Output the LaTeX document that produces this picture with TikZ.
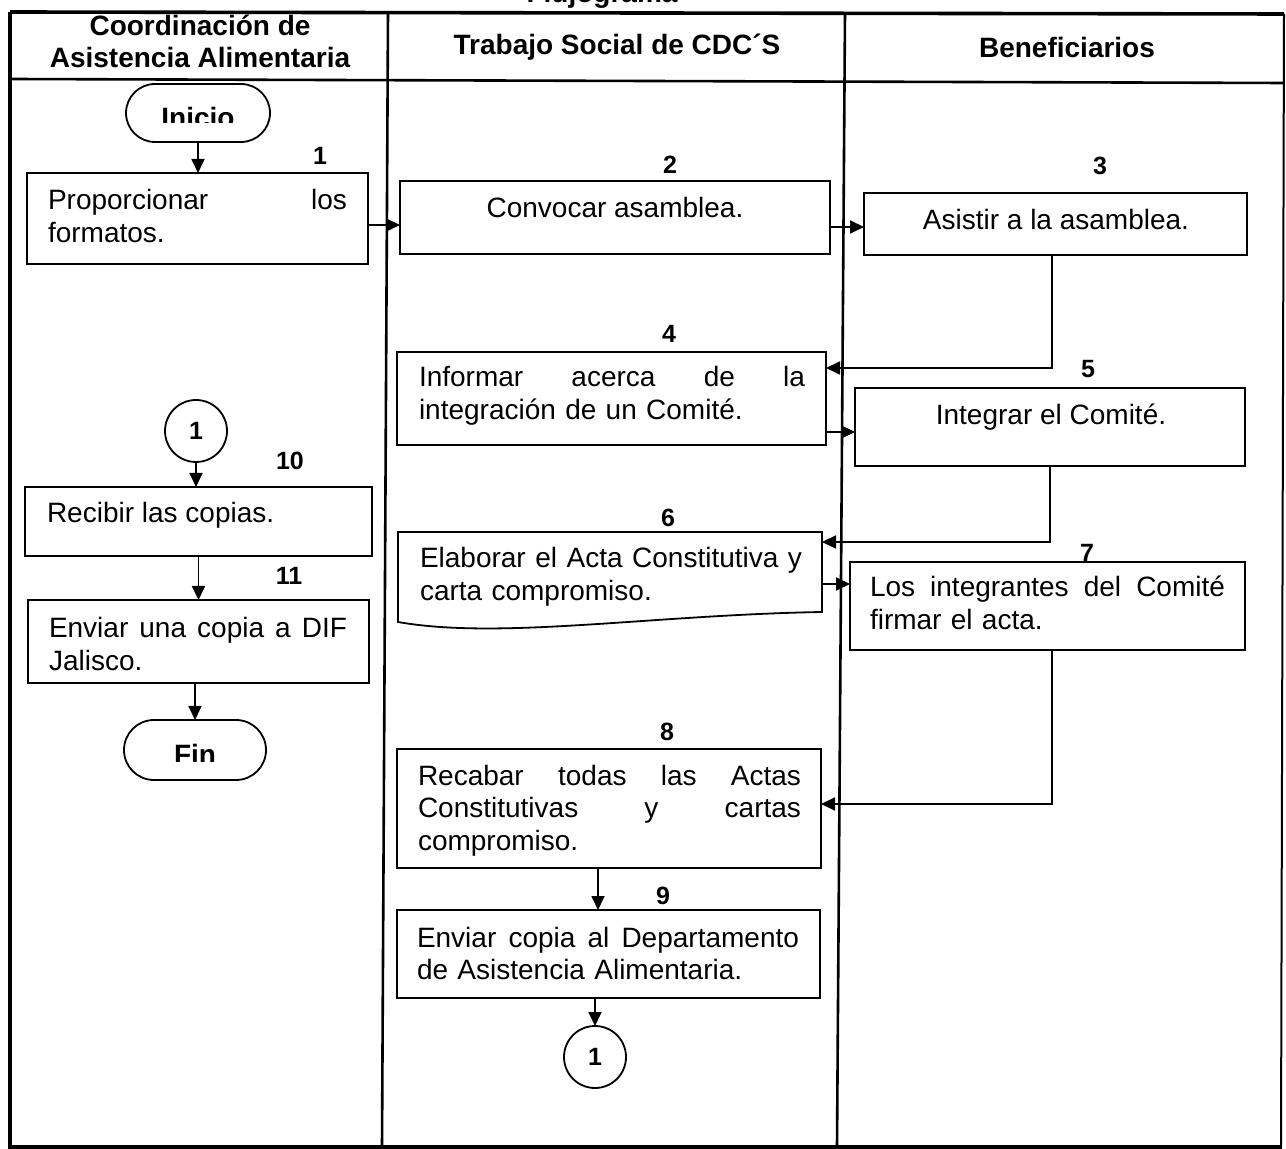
\documentclass[tikz,border=0pt]{standalone}
\usepackage{fontspec}
\setmainfont{Liberation Sans}
\usetikzlibrary{arrows.meta,shapes.misc,calc}

\newcommand{\bodyfont}{\fontsize{14pt}{16.4pt}\selectfont}
\newcommand{\headfont}{\bfseries\fontsize{14pt}{16pt}\selectfont}
\newcommand{\numfont}{\bfseries\fontsize{12.5pt}{14pt}\selectfont}

\tikzset{
  box/.style={draw, rectangle, line width=0.9pt, inner sep=0pt, outer sep=0pt},
  ghost/.style={rectangle, inner sep=0pt, outer sep=0pt},
  term/.style={draw, rounded rectangle, line width=0.9pt, inner sep=0pt, outer sep=0pt},
  conn/.style={draw, circle, line width=0.9pt, minimum size=31pt, inner sep=0pt, outer sep=0pt, font=\numfont},
  txt/.style={inner sep=0pt, outer sep=0pt, font=\bodyfont},
  para/.style={txt, anchor=base west, align=left},
  num/.style={inner sep=0pt, font=\numfont, anchor=base},
  head/.style={inner sep=0pt, font=\headfont, anchor=base},
  flow/.style={line width=0.9pt, -{Triangle[length=7pt,width=6.5pt]}},
  link/.style={line width=0.9pt},
}

\begin{document}
\begin{tikzpicture}[x=0.5pt,y=-0.5pt]
\useasboundingbox (0,0) rectangle (1286,1149);

% title (partly above the frame)
\node[head] (title) at (602,3) {Flujograma};

% frame, header rule and lane dividers
\draw[line width=1.8pt] (10,12) -- (1284,14);
\draw[line width=1.8pt] (10,12) -- (10,1147) -- (1282,1147);
\draw[line width=1pt] (1284,14) -- (1281,1147);
\draw[line width=1.3pt] (10,79) -- (1284,83);
\draw[line width=1.3pt] (388,12) -- (382,1147);
\draw[line width=1.3pt] (845,13) -- (837,1147);

% lane headings
\node[head] (h1a) at (200,36) {Coordinación de};
\node[head] (h1b) at (200,68) {Asistencia Alimentaria};
\node[head] (h2) at (617,55) {Trabajo Social de CDC´S};
\node[head] (h3) at (1067,58) {Beneficiarios};

% ---- lane 1: Coordinación de Asistencia Alimentaria
\node[term, minimum width=72pt, minimum height=29pt] (ini) at (198,113) {};
\begin{scope}
  \clip (110,90) rectangle (290,123);
  \node[head] (tini) at (198,128) {Inicio};
\end{scope}

\node[box, minimum width=170.5pt, minimum height=45.5pt] (b1) at (197.5,218.5) {};
\node[para, text width=149.5pt] (t1) at (48,210) {Proporcionar\hfill los\\formatos.};
\node[num] (n1) at (320,165) {1};

\node[conn] (c1) at (196,431) {1};
\node[box, minimum width=173.5pt, minimum height=34.5pt] (b10) at (198.5,521.5) {};
\node[para] (t10) at (47,523) {Recibir las copias.};
\node[num] (n10) at (290,470) {10};

\node[box, minimum width=170.5pt, minimum height=41.5pt] (b11) at (198.5,641.5) {};
\node[para, text width=149pt] (t11) at (49,638) {Enviar\hfill una\hfill copia\hfill a\hfill DIF\\Jalisco.};
\node[num] (n11) at (289,585) {11};

\node[term, minimum width=71pt, minimum height=30pt] (fin) at (195,750) {};
\begin{scope}
  \clip (110,725) rectangle (290,762);
  \node[head] (tfin) at (195,765) {Fin};
\end{scope}

% ---- lane 2: Trabajo Social de CDC´S
\node[box, minimum width=215pt, minimum height=36.5pt] (b2) at (615,217.5) {};
\node[txt, anchor=base] (t2) at (615,218) {Convocar asamblea.};
\node[num] (n2) at (670,174) {2};

\node[box, minimum width=214.5pt, minimum height=46.5pt] (b4) at (611.5,398.5) {};
\node[para, text width=193pt] (t4) at (419,387) {Informar\hfill acerca\hfill de\hfill la\\integración de un Comité.};
\node[num] (n4) at (669,343) {4};

\node[ghost, minimum width=212pt, minimum height=40pt] (b6) at (610,572) {};
\draw[line width=0.9pt] (b6.south west) -- (b6.north west) -- (b6.north east) -- (b6.south east)
  .. controls ($(b6.south east)+(-172,3)$) and ($(b6.south west)+(102,28)$) .. ($(b6.south west)+(0,10)$) -- cycle;
\node[para, text width=191pt] (t6) at (420,568) {Elaborar\hfill el\hfill Acta\hfill Constitutiva\hfill y\\carta compromiso.};
\node[num] (n6) at (668,527) {6};

\node[box, minimum width=212pt, minimum height=59.5pt] (b8) at (609,808.5) {};
\node[para, text width=191.5pt] (t8) at (418,785) {Recabar\hfill todas\hfill las\hfill Actas\\Constitutivas\hfill y\hfill cartas\\compromiso.};
\node[num] (n8) at (667,741) {8};

\node[box, minimum width=211.5pt, minimum height=44pt] (b9) at (608.5,954) {};
\node[para, text width=191pt] (t9) at (417,947) {Enviar\hfill copia\hfill al\hfill Departamento\\de Asistencia Alimentaria.};
\node[num] (n9) at (663,905) {9};

\node[conn] (c2) at (595,1057) {1};

% ---- lane 3: Beneficiarios
\node[box, minimum width=191.5pt, minimum height=31pt] (b3) at (1055.5,224) {};
\node[txt, anchor=base] (t3) at (1056,230) {Asistir a la asamblea.};
\node[num] (n3) at (1100,175) {3};

\node[box, minimum width=195pt, minimum height=39pt] (b5) at (1050,427) {};
\node[txt, anchor=base] (t5) at (1051,425) {Integrar el Comité.};
\node[num] (n5) at (1088,378) {5};

\node[box, minimum width=197.5pt, minimum height=44pt] (b7) at (1047.5,606) {};
\node[para, text width=177.5pt] (t7) at (870,597) {Los\hfill integrantes\hfill del\hfill Comité\\firmar el acta.};
\node[num] (n7) at (1087,562) {7};

% ---- connector guides
\coordinate (r12) at (0,225);
\coordinate (r23) at (0,227);
\coordinate (k34) at (1052,368);
\coordinate (r45) at (0,432);
\coordinate (k56) at (1050,542);
\coordinate (r67) at (0,584);
\coordinate (k78) at (1052,804);
\coordinate (v89) at (598,0);

% ---- connectors
\draw[flow] (ini.south) -- (ini.south |- b1.north);
\draw[flow] (r12 -| b1.east) -- (r12 -| b2.west);
\draw[flow] (r23 -| b2.east) -- (r23 -| b3.west);
\draw[flow] (k34 |- b3.south) -- (k34) -- (k34 -| b4.east);
\draw[flow] (r45 -| b4.east) -- (r45 -| b5.west);
\draw[flow] (k56 |- b5.south) -- (k56) -- (k56 -| b6.east);
\draw[flow] (r67 -| b6.east) -- (r67 -| b7.west);
\draw[flow] (k78 |- b7.south) -- (k78) -- (k78 -| b8.east);
\draw[flow] (v89 |- b8.south) -- (v89 |- b9.north);
\draw[flow] (c2 |- b9.south) -- (c2.north);
\draw[flow] (c1.south) -- (c1.south |- b10.north);
\draw[flow] (b10.south) -- (b10.south |- b11.north);
\draw[flow] (fin.north |- b11.south) -- (fin.north);
\end{tikzpicture}
\end{document}
